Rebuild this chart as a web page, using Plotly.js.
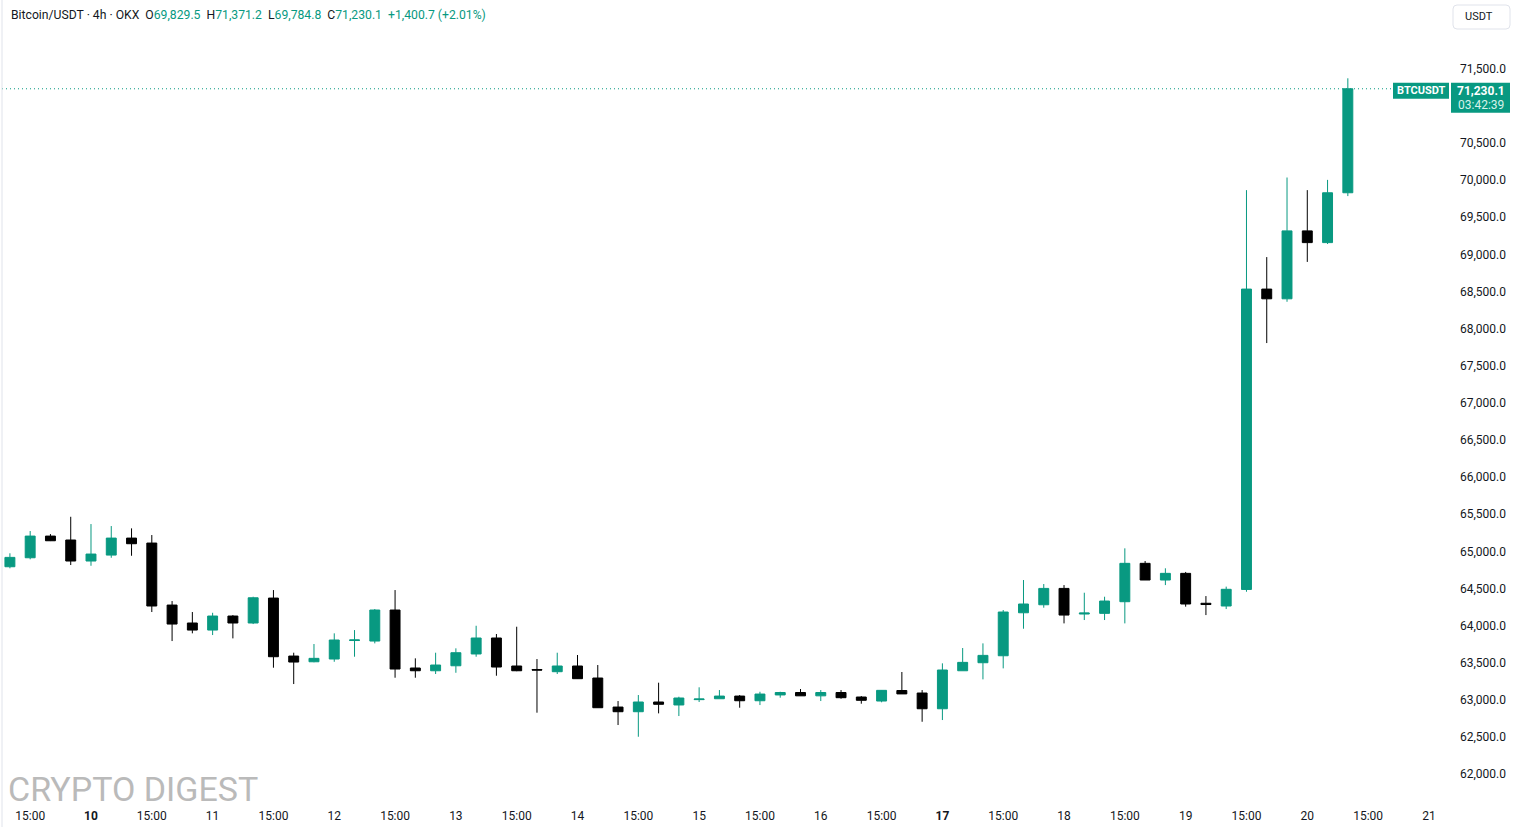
<!DOCTYPE html>
<html><head><meta charset="utf-8">
<script src="https://cdn.plot.ly/plotly-3.0.1.min.js"></script>
<style>html,body{margin:0;padding:0;background:#fff;overflow:hidden}#chart{width:1517px;height:827px}</style>
</head><body><div id="chart"></div>
<script>
// ---- data ----
const symbolText = 'Bitcoin/USDT · 4h · OKX';
const tickerName = 'BTCUSDT';
const currencyName = 'USDT';
const countdownText = '03:42:39';
const watermarkText = 'CRYPTO DIGEST';

const opens = [64792,64913,65205,65152,64869,64949,65178,65111,64276,64034,63939,64128,64034,64370,63589,63512,63549,63798,63791,64209,63428,63391,63458,63617,63832,63455,63408,63378,63455,63293,62902,62839,62970,62930,63002,63014,63050,62987,63065,63098,63053,63098,63037,62983,63125,63091,62879,63391,63499,63593,64172,64280,64500,64155,64164,64321,64838,64613,64703,64300,64263,64486,68532,68401,69316,69158,69829.5];
const highs = [64973,65273,65232,65465,65367,65340,65309,65219,64330,64182,64172,64141,64388,64478,63634,63751,63895,63939,64222,64478,63558,63634,63693,63997,63886,63984,63549,63634,63603,63468,62983,63064,63230,63041,63168,63131,63064,63108,63108,63145,63131,63131,63050,63131,63374,63131,63491,63697,63760,64209,64613,64559,64545,64442,64388,65040,64869,64771,64722,64397,64524,69865,68963,70035,69865,70003,71371.2];
const lows = [64771,64892,65138,64815,64805,64913,64940,64182,63791,63895,63872,63827,64020,63432,63212,63505,63512,63580,63760,63297,63297,63347,63364,63580,63324,63385,62826,63347,63280,62890,62660,62502,62817,62781,62970,63014,62893,62929,63028,63053,62983,63014,62947,62966,63079,62704,62727,63391,63275,63423,63957,64240,64029,64074,64074,64029,64613,64545,64254,64141,64222,64455,67805,68361,68898,69139,69784.8];
const closes = [64918,65205,65142,64869,64963,65178,65102,64263,64020,63939,64128,64034,64374,63580,63508,63558,63805,63806,64209,63414,63391,63468,63634,63832,63441,63391,63400,63455,63284,62893,62839,62970,62939,63024,63010,63050,62987,63077,63098,63053,63098,63028,62993,63127,63079,62879,63401,63504,63598,64182,64290,64500,64141,64168,64330,64838,64613,64703,64290,64283,64488,68532,68401,69316,69158,69829.4,71230.1];

const timeTickLabels = ['15:00','<b>10</b>','15:00','11','15:00','12','15:00','13','15:00','14','15:00','15','15:00','16','15:00','<b>17</b>','15:00','18','15:00','19','15:00','20','15:00','21'];
const priceTicks = [62000,62500,63000,63500,64000,64500,65000,65500,66000,66500,67000,67500,68000,68500,69000,69500,70000,70500,71500];

// ---- helpers ----
const TEAL = '#089981';
const TXT = '#131722';
const FONT = 'Roboto, "Open Sans", sans-serif';
const PL = 2, PR = 1450, PT = 0, PB = 800;
const fx = v => (v - PL) / (PR - PL);
const fy = v => (PB - v) / (PB - PT);
function rr(x0, y0, x1, y1, r) {
  const X = fx, Y = fy;
  return `M${X(x0+r)},${Y(y0)} L${X(x1-r)},${Y(y0)} Q${X(x1)},${Y(y0)} ${X(x1)},${Y(y0+r)} L${X(x1)},${Y(y1-r)} Q${X(x1)},${Y(y1)} ${X(x1-r)},${Y(y1)} L${X(x0+r)},${Y(y1)} Q${X(x0)},${Y(y1)} ${X(x0)},${Y(y1-r)} L${X(x0)},${Y(y0+r)} Q${X(x0)},${Y(y0)} ${X(x0+r)},${Y(y0)} Z`;
}
const fmt = v => v.toLocaleString('en-US', {minimumFractionDigits: 1, maximumFractionDigits: 1});

const barIndex = opens.map((_, i) => i);
const tickPos = timeTickLabels.map((_, i) => 1 + 3 * i);

const n = opens.length;
const lastO = opens[n-1], lastH = highs[n-1], lastL = lows[n-1], lastC = closes[n-1];
const prevC = closes[n-2];
const chg = lastC - prevC;
const pct = chg / prevC * 100;
const tc = s => `<span style="color:${TEAL}">${s}</span>`;
const sp = '\u00A0\u00A0';
const header = `${symbolText}${sp}O${tc(fmt(lastO))}${sp}H${tc(fmt(lastH))}${sp}L${tc(fmt(lastL))}${sp}C${tc(fmt(lastC))}${sp}${tc((chg >= 0 ? '+' : '') + fmt(chg) + ' (' + (chg >= 0 ? '+' : '') + pct.toFixed(2) + '%)')}`;

const trace = {
  type: 'candlestick',
  x: barIndex,
  open: opens, high: highs, low: lows, close: closes,
  increasing: {line: {color: TEAL, width: 1}, fillcolor: TEAL},
  decreasing: {line: {color: '#000000', width: 1}, fillcolor: '#000000'},
  whiskerwidth: 0,
  hoverinfo: 'skip',
  showlegend: false
};

const layout = {
  width: 1517, height: 827,
  margin: {l: PL, r: 1517 - PR, t: PT, b: 827 - PB, pad: 0},
  paper_bgcolor: '#ffffff', plot_bgcolor: '#ffffff',
  font: {family: FONT, size: 12, color: TXT},
  showlegend: false,
  xaxis: {
    range: [-0.39, 71.04], showgrid: false, zeroline: false, showline: false,
    rangeslider: {visible: false}, fixedrange: true,
    tickmode: 'array', tickvals: tickPos, ticktext: timeTickLabels,
    ticks: '', ticklabelstandoff: 7,
    tickfont: {family: FONT, size: 12, color: TXT}
  },
  yaxis: {
    side: 'right', range: [61650, 72426], showgrid: false, zeroline: false, showline: false,
    fixedrange: true, tickmode: 'array', tickvals: priceTicks, tickformat: ',.1f',
    ticks: '', ticklabelstandoff: 9,
    tickfont: {family: FONT, size: 12, color: TXT}
  },
  shapes: [
    {type: 'line', xref: 'paper', yref: 'paper', x0: 0, x1: 0, y0: fy(827), y1: 1,
     line: {color: '#e0e3eb', width: 1}},
    {type: 'line', xref: 'paper', yref: 'y', x0: 0, x1: fx(1393), y0: lastC, y1: lastC,
     line: {color: TEAL, width: 1, dash: '1px,3px'}, layer: 'below'},
    {type: 'path', xref: 'paper', yref: 'paper', path: rr(1453, 5, 1510, 29, 4),
     line: {color: '#e0e3eb', width: 1}, fillcolor: '#ffffff'},
    {type: 'rect', xref: 'paper', yref: 'y', ysizemode: 'pixel', yanchor: lastC,
     x0: fx(1393), x1: fx(1449), y0: -10, y1: 6, line: {width: 0}, fillcolor: TEAL},
    {type: 'rect', xref: 'paper', yref: 'y', ysizemode: 'pixel', yanchor: lastC,
     x0: fx(1451), x1: fx(1510), y0: -24, y1: 6, line: {width: 0}, fillcolor: TEAL}
  ],
  annotations: [
    {xref: 'paper', yref: 'paper', x: fx(9), y: fy(15), xanchor: 'left', yanchor: 'middle',
     text: header, showarrow: false, font: {family: FONT, size: 12.2, color: TXT}},
    {xref: 'paper', yref: 'paper', x: fx(1463), y: fy(17), xanchor: 'left', yanchor: 'middle',
     text: currencyName, showarrow: false, font: {family: FONT, size: 11, color: TXT}},
    {xref: 'paper', yref: 'y', x: fx(1421), y: lastC, yshift: -2, xanchor: 'center', yanchor: 'middle',
     text: '<b>' + tickerName + '</b>', showarrow: false, font: {family: FONT, size: 11, color: '#ffffff'}},
    {xref: 'paper', yref: 'y', x: fx(1481), y: lastC, yshift: -2, xanchor: 'center', yanchor: 'middle',
     text: '<b>' + fmt(lastC) + '</b>', showarrow: false, font: {family: FONT, size: 12, color: '#ffffff'}},
    {xref: 'paper', yref: 'y', x: fx(1481), y: lastC, yshift: -16, xanchor: 'center', yanchor: 'middle',
     text: countdownText, showarrow: false, font: {family: FONT, size: 12, color: '#d6f2ea'}},
    {xref: 'paper', yref: 'paper', x: fx(6), y: fy(789), xanchor: 'left', yanchor: 'middle',
     text: watermarkText, showarrow: false, font: {family: FONT, size: 34, color: '#bababa'}}
  ]
};

Plotly.newPlot('chart', [trace], layout, {staticPlot: true, displayModeBar: false});
</script></body></html>
